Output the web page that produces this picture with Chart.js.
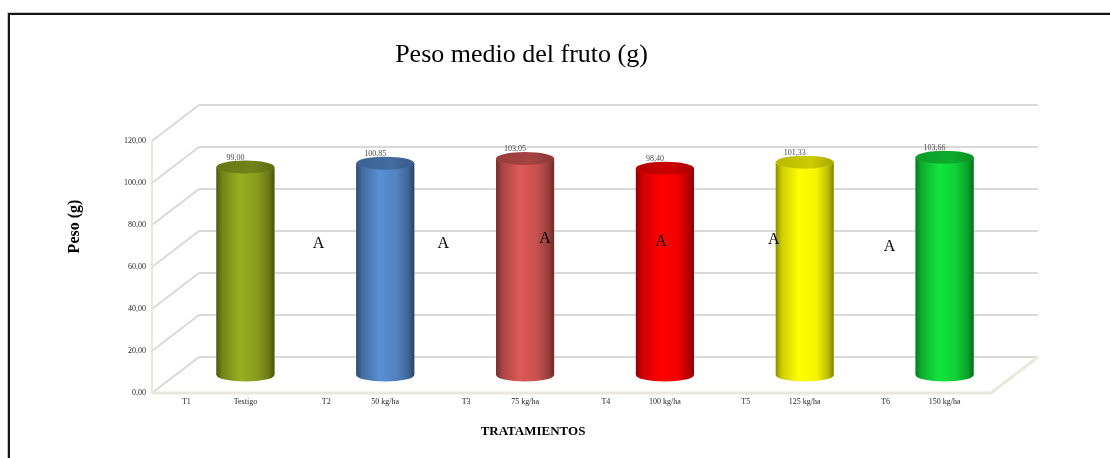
<!DOCTYPE html>
<html>
<head>
<meta charset="utf-8">
<title>Peso medio del fruto</title>
<script src="https://cdn.jsdelivr.net/npm/chart.js@4"></script>
<style>
  html, body { margin: 0; padding: 0; background: #fff; overflow: hidden; }
  #wrap { position: relative; width: 1110px; height: 458px; overflow: hidden; }
  .frame {
    position: absolute; left: 8px; top: 13px; width: 1200px; height: 600px;
    border: 2px solid #161616; box-shadow: -1px -1px 0 #c8c8c8;
  }
  #chart { position: absolute; left: 0; top: 0; }
</style>
</head>
<body>
<div id="wrap">
  <div class="frame"></div>
  <canvas id="chart" width="1110" height="458"></canvas>
</div>
<script>
const treatments = ["T1", "T2", "T3", "T4", "T5", "T6"];
const doses = ["Testigo", "50 kg/ha", "75 kg/ha", "100 kg/ha", "125 kg/ha", "150 kg/ha"];
const pesoFruto = [99.0, 100.85, 103.05, 98.4, 101.33, 103.66];
const groups = ["A", "A", "A", "A", "A", "A"];
const yTicks = [0, 20, 40, 60, 80, 100, 120];
const barColors = ["#8FA41E", "#5487C8", "#D05552", "#FF0000", "#FFFF00", "#10D83A"];

// the loose "A" text boxes: px from the bar centre, height in axis units
const letterDx = [73, 58, 20, -4, -31, -55];
const letterAt = [62.6, 62.6, 65, 63.6, 64.5, 61.2];

const DX = 23.5, DY = 18; // half of the 3d depth offset
const serif = '"Liberation Serif", "Times New Roman", serif';
const fmt = (v) => v.toFixed(2).replace(".", ",");

function shade(hex, f) {
  const n = parseInt(hex.slice(1), 16);
  const c = [(n >> 16) & 255, (n >> 8) & 255, n & 255].map((v) =>
    Math.max(0, Math.min(255, Math.round(v * f)))
  );
  return `rgb(${c[0]},${c[1]},${c[2]})`;
}

function drawCylinder(ctx, bar, color) {
  const cx = bar.x, rx = bar.width / 2, ry = 6.5;
  const top = bar.y, base = bar.base;
  const L = cx - rx, R = cx + rx;

  const g = ctx.createLinearGradient(L, 0, R, 0);
  g.addColorStop(0, shade(color, 0.55));
  g.addColorStop(0.1, shade(color, 0.8));
  g.addColorStop(0.4, shade(color, 1.06));
  g.addColorStop(0.7, shade(color, 0.96));
  g.addColorStop(0.9, shade(color, 0.74));
  g.addColorStop(1, shade(color, 0.5));

  ctx.beginPath();
  ctx.moveTo(L, top);
  ctx.lineTo(L, base);
  ctx.ellipse(cx, base, rx, ry, 0, Math.PI, 0, true);
  ctx.lineTo(R, top);
  ctx.ellipse(cx, top, rx, ry, 0, 0, Math.PI, false);
  ctx.closePath();
  ctx.fillStyle = g;
  ctx.fill();

  const lid = ctx.createLinearGradient(L, 0, R, 0);
  lid.addColorStop(0, shade(color, 0.72));
  lid.addColorStop(0.6, shade(color, 0.8));
  lid.addColorStop(1, shade(color, 0.66));
  ctx.beginPath();
  ctx.ellipse(cx, top, rx, ry, 0, 0, Math.PI * 2);
  ctx.fillStyle = lid;
  ctx.fill();
}

const box3d = {
  id: "box3d",
  beforeDatasetsDraw(chart) {
    const { ctx, chartArea: a, scales: { y } } = chart;
    ctx.save();
    ctx.lineWidth = 2;
    ctx.strokeStyle = "#D9D9D9";
    for (const v of yTicks) {
      const py = y.getPixelForValue(v);
      ctx.beginPath();
      ctx.moveTo(a.left - DX, py + DY);
      ctx.lineTo(a.left + DX, py - DY);
      ctx.lineTo(a.right + DX, py - DY);
      ctx.stroke();
    }
    const y0 = y.getPixelForValue(0);
    const yTop = y.getPixelForValue(yTicks[yTicks.length - 1]);
    ctx.strokeStyle = "#EAE8DC";
    ctx.lineWidth = 3;
    ctx.beginPath();
    ctx.moveTo(a.left - DX, y0 + DY);
    ctx.lineTo(a.right - DX, y0 + DY);
    ctx.lineTo(a.right + DX, y0 - DY);
    ctx.stroke();
    ctx.lineWidth = 2;
    ctx.beginPath();
    ctx.moveTo(a.left - DX, yTop + DY);
    ctx.lineTo(a.left - DX, y0 + DY);
    ctx.stroke();
    ctx.restore();
  },
  afterDatasetsDraw(chart) {
    const { ctx, chartArea: a, scales: { x, y } } = chart;
    const meta = chart.getDatasetMeta(0);
    ctx.save();
    meta.data.forEach((bar, i) => drawCylinder(ctx, bar, barColors[i]));

    ctx.textAlign = "center";
    ctx.textBaseline = "middle";
    ctx.fillStyle = "#4a4a4a";
    ctx.font = `8px ${serif}`;
    meta.data.forEach((bar, i) => {
      ctx.fillText(fmt(pesoFruto[i]), bar.x - 10, bar.y - 9.5);
    });

    // T1..T6 sit left of each dose label on the same row
    ctx.fillStyle = "#262626";
    treatments.forEach((t, i) => {
      ctx.fillText(t, x.getPixelForValue(i) - 59, a.bottom + 27);
    });

    ctx.fillStyle = "#000";
    ctx.font = `16px ${serif}`;
    groups.forEach((g, i) => {
      ctx.fillText(g, x.getPixelForValue(i) + letterDx[i], y.getPixelForValue(letterAt[i]));
    });

    ctx.font = `26px ${serif}`;
    ctx.textBaseline = "alphabetic";
    ctx.fillText("Peso medio del fruto (g)", 521.5, 62);

    ctx.textBaseline = "middle";
    ctx.font = `bold 13px ${serif}`;
    ctx.fillText("TRATAMIENTOS", 533, 432);

    ctx.translate(75, 226.5);
    ctx.rotate(-Math.PI / 2);
    ctx.font = `bold 16px ${serif}`;
    ctx.fillText("Peso (g)", 0, 0);
    ctx.restore();
  },
};

new Chart(document.getElementById("chart"), {
  type: "bar",
  data: {
    labels: doses,
    datasets: [
      {
        label: "Peso medio del fruto (g)",
        data: pesoFruto,
        backgroundColor: barColors,
        borderWidth: 0,
        barPercentage: 0.415,
        categoryPercentage: 1,
      },
    ],
  },
  options: {
    responsive: false,
    devicePixelRatio: 1,
    animation: false,
    layout: { padding: { top: 123, right: 95.5, bottom: 0, left: 0 } },
    plugins: {
      legend: { display: false },
      tooltip: { enabled: false },
      title: { display: false },
    },
    scales: {
      x: {
        grid: { display: false, drawTicks: false },
        border: { display: false },
        ticks: {
          autoSkip: false,
          maxRotation: 0,
          padding: 22,
          color: "#262626",
          font: { family: serif, size: 8 },
        },
        afterFit: (s) => { s.height = 83; },
      },
      y: {
        min: 0,
        max: 120,
        grid: { display: false, drawTicks: false },
        border: { display: false },
        ticks: {
          stepSize: 20,
          padding: 29.5,
          labelOffset: DY,
          color: "#262626",
          font: { family: serif, size: 8 },
          callback: (v) => fmt(v),
        },
        afterFit: (s) => { s.width = 175.5; },
      },
    },
  },
  plugins: [box3d],
});
</script>
</body>
</html>
